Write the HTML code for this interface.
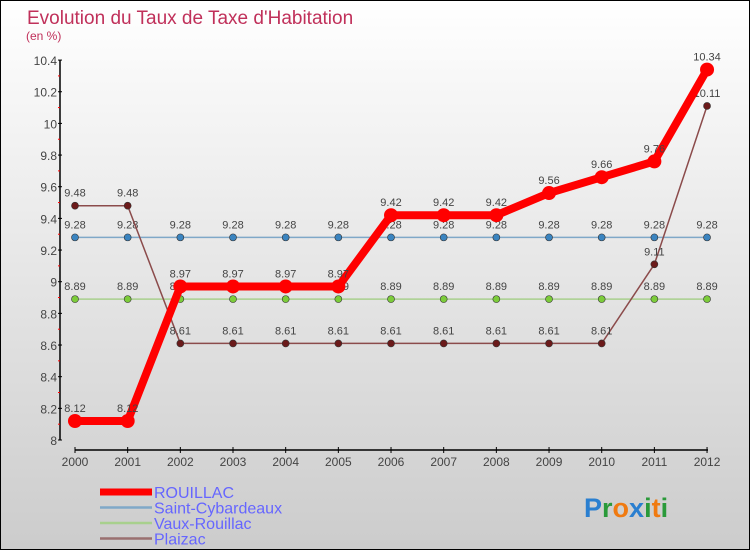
<!DOCTYPE html>
<html><head><meta charset="utf-8"><style>
body{margin:0}
#c{position:relative;width:750px;height:550px;box-sizing:border-box;border:1px solid #000;background:linear-gradient(#fff,#ccc);font-family:"Liberation Sans",sans-serif;overflow:hidden}
</style></head><body>
<div id="c">
<svg id="s" width="750" height="550" style="position:absolute;left:-1px;top:-1px"></svg>
</div>
<script>
const years=[2000,2001,2002,2003,2004,2005,2006,2007,2008,2009,2010,2011,2012];
const rouillac=[8.12,8.12,8.97,8.97,8.97,8.97,9.42,9.42,9.42,9.56,9.66,9.76,10.34];
const saintCyb=[9.28,9.28,9.28,9.28,9.28,9.28,9.28,9.28,9.28,9.28,9.28,9.28,9.28];
const vaux=[8.89,8.89,8.89,8.89,8.89,8.89,8.89,8.89,8.89,8.89,8.89,8.89,8.89];
const plaizac=[9.48,9.48,8.61,8.61,8.61,8.61,8.61,8.61,8.61,8.61,8.61,9.11,10.11];
const yTicks=[8,8.2,8.4,8.6,8.8,9,9.2,9.4,9.6,9.8,10,10.2,10.4];
const NS="http://www.w3.org/2000/svg",s=document.getElementById('s');
const X=i=>75+i*52.67, Y=v=>440-(v-8)*158.3;
function el(t,a,txt){const e=document.createElementNS(NS,t);for(const k in a)e.setAttribute(k,a[k]);if(txt!==undefined)e.textContent=txt;s.appendChild(e);return e;}
let t=el('text',{x:27,y:24,fill:'#c0305a','font-size':19},'Evolution du Taux de Taxe d\'Habitation');

t=el('text',{x:26,y:40,fill:'#c0305a','font-size':12},'(en %)');

let a=el('line',{x1:60,y1:60,x2:60,y2:440,stroke:'#000','stroke-width':1.5});

yTicks.forEach((v,i)=>{el('line',{x1:58,y1:Y(v),x2:62,y2:Y(v),stroke:'#000'});
if(i<yTicks.length-1)el('line',{x1:58,y1:Y(v+0.1),x2:60,y2:Y(v+0.1),stroke:'red'});
const l=el('text',{x:57,y:Y(v)+5,'text-anchor':'end','font-size':12,fill:'#444'},String(v));
});
a=el('line',{x1:75,y1:450,x2:708,y2:450,stroke:'#000','stroke-width':1.5});

years.forEach((y,i)=>{el('line',{x1:X(i),y1:447,x2:X(i),y2:453,stroke:'#000'});
const l=el('text',{x:X(i),y:466,'text-anchor':'middle','font-size':12,fill:'#444'},String(y));
});
function series(d,col,w,r,name,dot){
const p=el('polyline',{points:d.map((v,i)=>X(i)+','+Y(v)).join(' '),fill:'none',stroke:col,'stroke-width':w,'stroke-linejoin':'round'});

d.forEach((v,i)=>{const c=el('circle',{cx:X(i),cy:Y(v),r:r,fill:dot,stroke:'#333','stroke-width':r>4?0:0.6});

const l=el('text',{x:X(i),y:Y(v)-9,'text-anchor':'middle','font-size':11,fill:'#444'},String(v));
});}
series(vaux,'#a8d08d',1.5,3.5,'vaux-rouillac','#7ccc3a');
series(saintCyb,'#7fa8c8',1.5,3.5,'saint-cybardeaux','#3a84c0');
series(plaizac,'#8b4b4b',1.5,3.5,'plaizac','#6b1a1a');
series(rouillac,'#f00',8,7,'rouillac','#f00');
const leg=[['ROUILLAC','#f00',7],['Saint-Cybardeaux','#7fa8c8',2.5],['Vaux-Rouillac','#a8d08d',2.5],['Plaizac','#9a7070',2.5]];
leg.forEach((g,i)=>{const y=492+i*15.5;
const l=el('line',{x1:100,y1:y,x2:152,y2:y,stroke:g[1],'stroke-width':g[2]});

const tx=el('text',{x:154,y:y+6,'font-size':16,fill:'#6666ff'},g[0]);
});
const lg=el('text',{x:584,y:517,'font-size':27,'font-weight':'bold'},'');

[['P','#2a7fd0'],['r','#2a9a3a'],['o','#f07a10'],['x','#2a7fd0'],['i','#2a9a3a'],['t','#f07a10'],['i','#2a9a3a']].forEach(c=>{const ts=document.createElementNS(NS,'tspan');ts.setAttribute('fill',c[1]);ts.textContent=c[0];lg.appendChild(ts);});
</script>
</body></html>
